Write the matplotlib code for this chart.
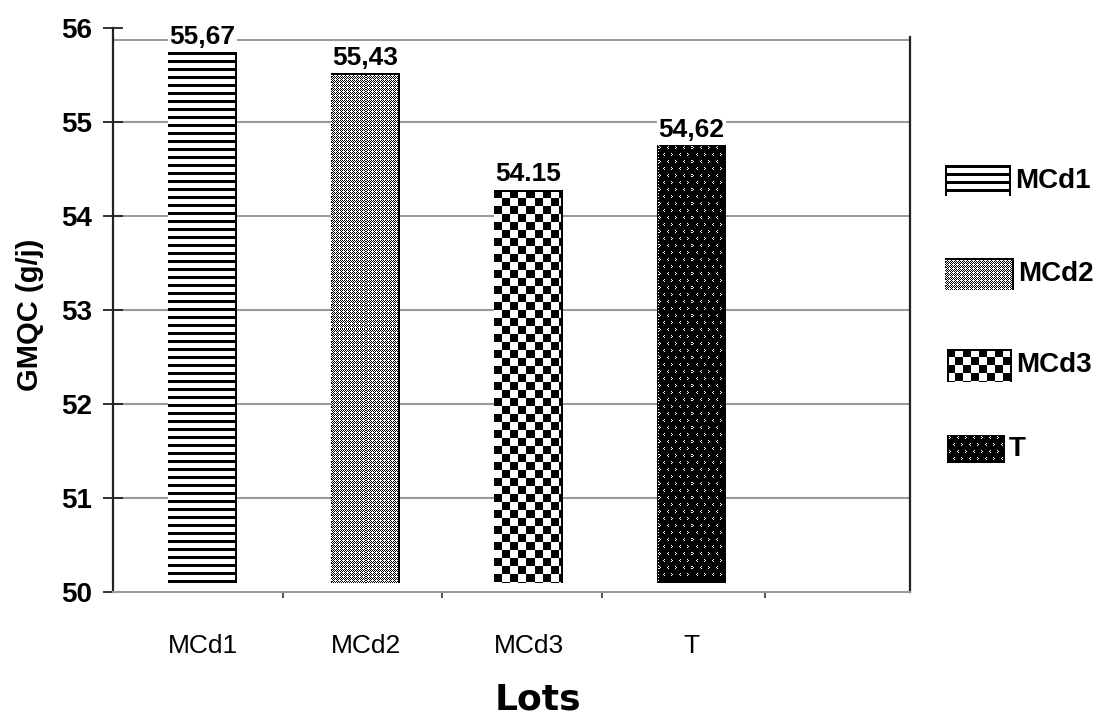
"""Bar chart of GMQC (g/j) by lot, with textured (pattern) fills like the original figure."""
import matplotlib
matplotlib.use("Agg")
import matplotlib.pyplot as plt
import numpy as np

# --- data -------------------------------------------------------------------
lots = ["MCd1", "MCd2", "MCd3", "T"]
bar_tops = [55.745, 55.52, 54.28, 54.755]       # bar heights as drawn
value_labels = ["55,67", "55,43", "54.15", "54,62"]  # printed values
bar_base = 50.1
textures = ["stripes", "diamond", "checker", "chevron"]

y_ticks = [50, 51, 52, 53, 54, 55, 56]
x_minor = [0.49, 1.47, 2.45, 3.45]

FIG_W, FIG_H = 1100, 718
NARROW = ["Liberation Sans Narrow", "Liberation Sans", "DejaVu Sans"]
BOLD = ["Liberation Sans", "DejaVu Sans"]


def texture(kind, ny, nx, edges=True):
    """Pixel texture, 1 = white, 0 = black."""
    ny, nx = max(int(ny), 2), max(int(nx), 2)
    yy, xx = np.mgrid[0:ny, 0:nx]
    if kind == "stripes":
        img = (yy % 8 >= 3).astype(float)
        img[:, -2:] = 0
        if not edges:
            img[:, :2] = 0
    elif kind == "diamond":
        img = np.ones((ny, nx))
        img[((xx + yy) % 4 == 0) | ((xx - yy) % 4 == 0)] = 0
        img[(xx % 4 == 2) & (yy % 4 == 0)] = 0
        img[:2, :] = 0
        img[:, -2:] = 0
        img[::3, 0] = 0
    elif kind == "checker":
        img = ((xx // 8 + yy // 8) % 2).astype(float)
        img[:2, :] = 0
        img[:, -2:] = 0
        if not edges:
            img[:, :2] = 0
    else:  # black with little white chevrons
        img = np.zeros((ny, nx))
        lt = np.array([[0, 1], [1, 0], [0, 1]])
        gt = np.array([[1, 0], [0, 1], [1, 0]])
        for r in range(1, ny - 3, 7):
            shift = 4 if (r // 7) % 2 else 0
            for c in range(2 + shift, nx - 2, 8):
                glyph = lt if ((c // 8) + (r // 7)) % 2 else gt
                img[r:r + 3, c:c + 2] = np.maximum(img[r:r + 3, c:c + 2], glyph)
        if edges:
            img[::3, 1] = 1
    return img


fig = plt.figure(figsize=(FIG_W / 100, FIG_H / 100), dpi=100)
ax_left, ax_right, ax_top, ax_bot = 113, 910, 28, 592
ax = fig.add_axes([ax_left / FIG_W, 1 - ax_bot / FIG_H,
                   (ax_right - ax_left) / FIG_W, (ax_bot - ax_top) / FIG_H])

xlim = (-0.55, 4.34)
ylim = (50, 56)
px_x = (ax_right - ax_left) / (xlim[1] - xlim[0])
px_y = (ax_bot - ax_top) / (ylim[1] - ylim[0])

x = np.arange(len(lots))
heights = [t - bar_base for t in bar_tops]
bars = ax.bar(x, heights, 0.42, bottom=bar_base, facecolor="none",
              linewidth=0, zorder=3)

for bar, kind in zip(bars, textures):
    x0, y0 = bar.get_x(), bar.get_y()
    w, h = bar.get_width(), bar.get_height()
    img = texture(kind, round(h * px_y), round(w * px_x))
    ax.imshow(img, extent=(x0, x0 + w, y0, y0 + h), origin="upper",
              cmap="gray", vmin=0, vmax=1, interpolation="nearest",
              aspect="auto", zorder=3)

for xi, top, lab in zip(x, bar_tops, value_labels):
    ax.annotate(lab, (xi, top), xytext=(0, 6), textcoords="offset points",
                ha="center", va="baseline", fontsize=19, fontweight="bold",
                family=BOLD, zorder=5,
                bbox=dict(facecolor="white", edgecolor="none", pad=1))

ax.set_xlim(*xlim)
ax.set_ylim(*ylim)

# gridlines + frame (top line sits a bit below 56, like the original)
for yv in y_ticks[1:-1]:
    ax.axhline(yv, color="#9a9a9a", linewidth=1.5, zorder=1)
ax.axhline(55.87, color="#9a9a9a", linewidth=1.5, zorder=1)
ax.spines["top"].set_visible(False)
ax.spines["right"].set_bounds(50, 55.9)
ax.spines["right"].set_color("#222222")
ax.spines["right"].set_linewidth(1.6)
ax.spines["left"].set_color("#222222")
ax.spines["left"].set_linewidth(1.6)
ax.spines["bottom"].set_color("#9a9a9a")
ax.spines["bottom"].set_linewidth(1.5)

ax.set_yticks(y_ticks)
ax.set_yticklabels([str(v) for v in y_ticks], fontsize=20, fontweight="bold",
                   family=BOLD)
ax.tick_params(axis="y", direction="inout", length=14, width=1.3, pad=8,
               color="#222222")

ax.set_xticks(x)
ax.set_xticklabels(lots, fontsize=19, family=NARROW)
ax.set_xticks(x_minor, minor=True)
ax.tick_params(axis="x", which="major", length=0, pad=30)
ax.tick_params(axis="x", which="minor", direction="out", length=4, width=1.3,
               color="#444444")

fig.text(30 / FIG_W, 1 - 315 / FIG_H, "GMQC (g/j)", rotation=90,
         ha="center", va="center", fontsize=21, fontweight="bold", family=BOLD)
fig.text(538 / FIG_W, 0.012, "Lots", ha="center", va="baseline",
         fontsize=26, fontweight="bold", family=["DejaVu Sans"])

# legend, drawn in figure-pixel space
lg = fig.add_axes([0, 0, 1, 1], facecolor="none")
legend_boxes = [(945, 1011, 165, 196), (945, 1014, 258, 290),
                (947, 1012, 349, 382), (947, 1005, 435, 463)]
for (lx0, lx1, ly0, ly1), kind, name in zip(legend_boxes, textures, lots):
    img = texture(kind, ly1 - ly0, lx1 - lx0, edges=False)
    lg.imshow(img, extent=(lx0, lx1, ly1, ly0), origin="upper", cmap="gray",
              vmin=0, vmax=1, interpolation="nearest", aspect="auto")
    lg.text(lx1 + 4, (ly0 + ly1) / 2, name, ha="left", va="center",
            fontsize=20, fontweight="bold", family=BOLD)
lg.set_xlim(0, FIG_W)
lg.set_ylim(FIG_H, 0)
lg.axis("off")

fig.savefig("out.png", dpi=100)
